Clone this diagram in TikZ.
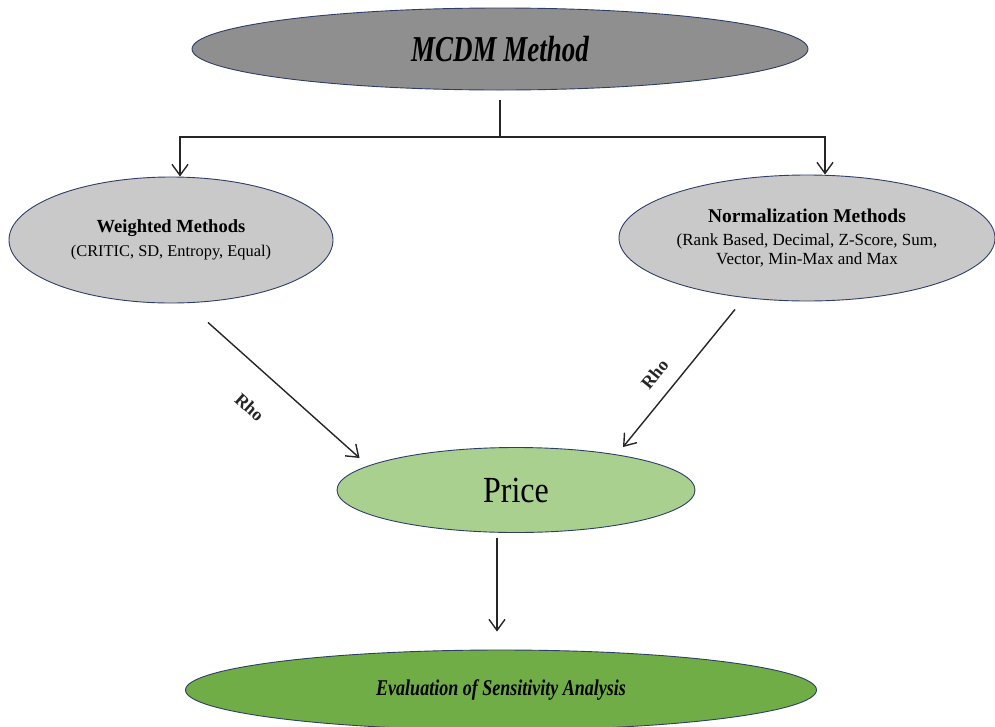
\documentclass[tikz,border=0pt]{standalone}
\usepackage{fontspec}
\setmainfont{Liberation Serif}
\usetikzlibrary{shapes.geometric, arrows.meta, positioning}
\definecolor{edgenavy}{RGB}{47, 62, 104}
\definecolor{methodgray}{RGB}{143, 143, 143}
\definecolor{familygray}{RGB}{201, 201, 201}
\definecolor{pricegreen}{RGB}{169, 208, 142}
\definecolor{evalgreen}{RGB}{112, 173, 71}
\newcommand{\tallword}[2]{\scalebox{1}[#1]{#2}}
\tikzset{
  blob/.style={ellipse, draw=edgenavy, line width=0.9pt, inner sep=0pt,
    align=center, text=black},
  topnode/.style={blob, fill=methodgray, minimum width=616pt,
    minimum height=82pt, font=\fontsize{27}{32}\selectfont\bfseries\itshape},
  familynode/.style={blob, fill=familygray, minimum height=126pt,
    font=\fontsize{17}{19.5}\selectfont},
  pricenode/.style={blob, fill=pricegreen, minimum width=358pt,
    minimum height=85pt, font=\fontsize{32}{36}\selectfont},
  evalnode/.style={blob, fill=evalgreen, minimum width=631pt,
    minimum height=80pt, font=\fontsize{18}{22}\selectfont\bfseries\itshape},
  rholabel/.style={font=\fontsize{18}{20}\selectfont\bfseries, sloped},
  arrow/.style={-{Straight Barb[length=11pt,width=16pt]}, line width=1.4pt,
    color=black!85}
}

\begin{document}
\begin{tikzpicture}[x=1pt, y=1pt]
\useasboundingbox (0,0) rectangle (995,-726);

\node (mcdm)  [topnode]                         at (500,-49)
  {\tallword{1.35}{MCDM Method}};
\node (wgt)   [familynode, minimum width=324pt] at (171,-240)
  {{\fontsize{18.5}{22}\selectfont\bfseries Weighted Methods}\\[4.5pt]
   {\fontsize{16.4}{19}\selectfont (CRITIC, SD, Entropy, Equal)}};
\node (norm)  [familynode, minimum width=376pt] at (807,-238)
  {{\fontsize{19.5}{23}\selectfont\bfseries Normalization Methods}\\[3.5pt]
   (Rank Based, Decimal, Z-Score, Sum,\\
   Vector, Min-Max and Max};
\node (price) [pricenode]                       at (516,-490)
  {\tallword{1.15}{Price}};
\node (eval)  [evalnode]                        at (501,-690)
  {\tallword{1.25}{Evaluation of Sensitivity Analysis}};

\coordinate (fork) at (500,-137);
\draw[line width=1.4pt, color=black!85] ([yshift=-10]mcdm.south) -- (fork);
\draw[arrow] (fork) -| ([xshift=9]wgt.north);
\draw[arrow] (fork) -| ([xshift=18]norm.north);

\draw[arrow] ([shift={(37,-19)}]wgt.south) -- ([shift={(23,32)}]price.west)
  node[rholabel, pos=0.43, below=25pt] {Rho};
\draw[arrow] ([shift={(-72,-8)}]norm.south) -- ([shift={(107,0)}]price.north)
  node[rholabel, pos=0.57, above=11pt] {Rho};

\draw[arrow] ([shift={(-19,-5)}]price.south) -- ([shift={(-4,18)}]eval.north);
\end{tikzpicture}
\end{document}
